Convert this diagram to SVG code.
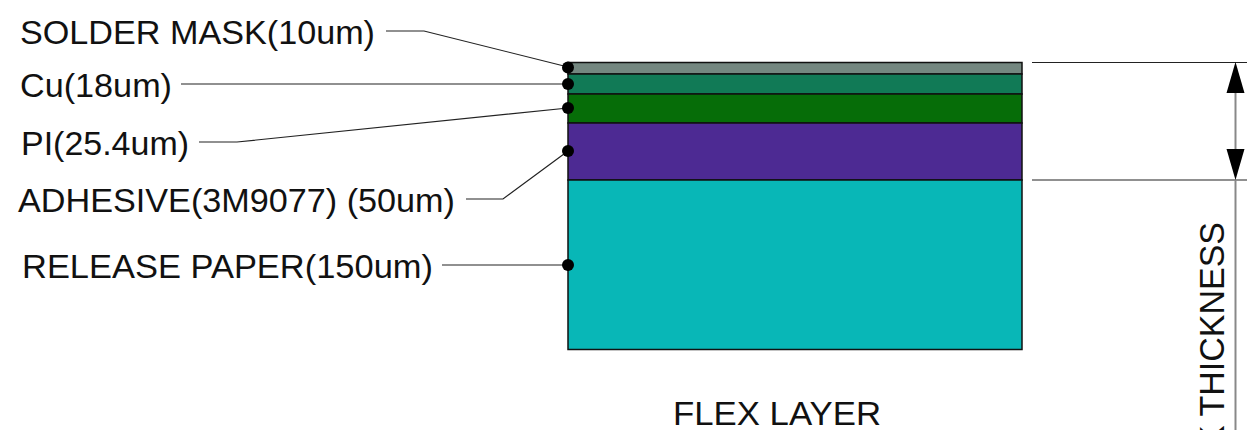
<svg xmlns="http://www.w3.org/2000/svg" width="1247" height="430" viewBox="0 0 1247 430">
<style>
text{font-family:"Liberation Sans",Arial,sans-serif;font-size:33px;fill:#111}
.layer{stroke:#111;stroke-width:1.5}
.lead{fill:none;stroke:#222;stroke-width:1.2}
.dim{fill:none;stroke:#222;stroke-width:1.2}
.dot{fill:#000}
</style>
<rect width="1247" height="430" fill="#fff"/>
<g id="layers">
<rect id="layer-mask" class="layer" x="568" y="62.500" width="454" height="11.500" fill="#748780"/>
<rect id="layer-cu" class="layer" x="568" y="74" width="454" height="20" fill="#117a56"/>
<rect id="layer-pi" class="layer" x="568" y="94" width="454" height="29" fill="#066d08"/>
<rect id="layer-adhesive" class="layer" x="568" y="123" width="454" height="57" fill="#4d2a93"/>
<rect id="layer-release" class="layer" x="568" y="180" width="454" height="169.500" fill="#08b7b7"/>
</g>
<g id="connectors">
<polyline class="lead" points="386,31 424,31 568,67"/>
<polyline class="lead" points="181,84 568,84"/>
<polyline class="lead" points="199,142 237,142 568,108"/>
<polyline class="lead" points="466,199 503,199 568,151"/>
<polyline class="lead" points="442,265 568,265"/>
<line class="dim" x1="1032" y1="62.500" x2="1247" y2="62.500"/>
<line class="dim" x1="1032" y1="180" x2="1247" y2="180"/>
<line x1="1235.500" y1="90" x2="1235.500" y2="150" stroke="#888" stroke-width="2"/>
<line x1="1235.500" y1="180" x2="1235.500" y2="430" stroke="#888" stroke-width="2"/>
<polygon points="1235.500,62 1226.500,93 1244.500,93" fill="#000"/>
<polygon points="1235.500,180 1226.500,149 1244.500,149" fill="#000"/>
</g>
<g id="dots">
<circle class="dot" cx="568" cy="67.500" r="6"/>
<circle class="dot" cx="568" cy="84" r="6"/>
<circle class="dot" cx="568" cy="108" r="6"/>
<circle class="dot" cx="568" cy="151" r="6"/>
<circle class="dot" cx="568" cy="265" r="6"/>
</g>
<g id="labels">
<text x="20" y="43.500" textLength="355" lengthAdjust="spacingAndGlyphs">SOLDER MASK(10um)</text>
<text x="20" y="97" textLength="152" lengthAdjust="spacingAndGlyphs">Cu(18um)</text>
<text x="21" y="154.500" textLength="168" lengthAdjust="spacingAndGlyphs">PI(25.4um)</text>
<text x="18" y="211.500" textLength="437" lengthAdjust="spacingAndGlyphs">ADHESIVE(3M9077) (50um)</text>
<text x="22" y="277.500" textLength="411" lengthAdjust="spacingAndGlyphs">RELEASE PAPER(150um)</text>
<text x="673" y="424.500" textLength="208" lengthAdjust="spacingAndGlyphs">FLEX LAYER</text>
<text transform="translate(1223.500 448) rotate(-90)" x="0" y="0" style="font-size:35.500px" textLength="226" lengthAdjust="spacingAndGlyphs">K THICKNESS</text>
</g>
</svg>
